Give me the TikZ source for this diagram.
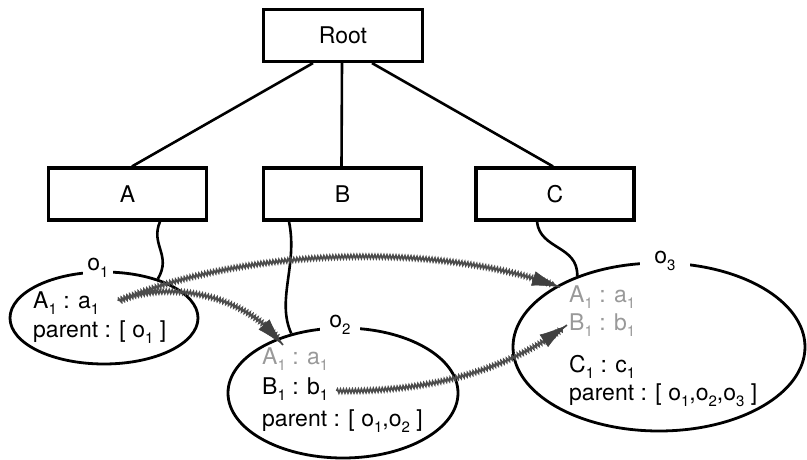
\documentclass[tikz,border=0pt]{standalone}
\usepackage{fontspec}
\setmainfont{TeX Gyre Heros}
\usetikzlibrary{shapes.geometric,arrows.meta,decorations.pathmorphing}
% lowered index digit used in attribute names
\newcommand\sbs[1]{\raisebox{-0.3em}{\fontsize{15}{15}\selectfont #1}}
\begin{document}
\begin{tikzpicture}[x=1pt,y=-1pt,
  lbl/.style={font=\fontsize{23}{27}\selectfont},
  classbox/.style={lbl, draw, line width=3.2pt, minimum width=158pt, minimum height=52pt, inner sep=0pt},
  obj/.style={ellipse, draw, line width=2.8pt, inner sep=0pt},
  olabel/.style={lbl, fill=white, inner ysep=2pt},
  txt/.style={lbl, anchor=base west, inner sep=0pt},
  faint/.style={txt, text=black!40},
  tie/.style={line width=2.6pt},
  wavy/.style={draw=black!70, line width=1.7pt, decorate,
    decoration={snake, amplitude=1.9pt, segment length=3pt, post length=6pt}},
  wavytip/.style={draw=black!75, fill=black!70, line width=0.6pt,
    -{Latex[length=28pt,width=15pt]}, shorten <=-0.5pt}]
\useasboundingbox (0,0) rectangle (807,460);

% class hierarchy
\node[classbox, minimum width=159pt] (root) at (343,35.5) {Root};
\node[classbox] (A) at (127.5,194) {A};
\node[classbox] (B) at (342.5,194) {B};
\node[classbox] (C) at (555,194) {C};

\draw[tie] ([xshift=-30pt]root.south) -- ([xshift=4.5pt]A.north);
\draw[tie] ([xshift=-1pt]root.south) -- ([xshift=-1pt]B.north);
\draw[tie] ([xshift=29pt]root.south) -- ([xshift=-2pt]C.north);

% objects
\node[obj, minimum width=188pt, minimum height=92pt] (o1) at (104,318) {};
\node[obj, minimum width=230pt, minimum height=130pt] (o2) at (343,393) {};
\node[obj, minimum width=292pt, minimum height=168pt] (o3) at (659,347) {};

\node[olabel, inner xsep=4pt] (o1l) at (98,268) {o\sbs{1}};
\node[olabel, inner xsep=9pt] (o2l) at (340,325) {o\sbs{2}};
\node[olabel, inner xsep=14pt] (o3l) at (665,261) {o\sbs{3}};

% instance-of links
\draw[tie] ([xshift=32.5pt]A.south) .. controls (150,245) and (172,255) .. (o1.36);
\draw[tie] ([xshift=-53.5pt]B.south) .. controls (298,265) and (276,300) .. (o2.131);
\draw[tie] ([xshift=-18pt]C.south) .. controls (540,250) and (578,245) .. (o3.139);

% attribute values
\node[txt] (o1a) at (33,308) {A\sbs{1} : a\sbs{1}};
\node[txt] (o1p) at (33,337) {parent : [ o\sbs{1} ]};

\node[faint] (o2a) at (262,364) {A\sbs{1} : a\sbs{1}};
\node[txt] (o2b) at (262,394) {B\sbs{1} : b\sbs{1}};
\node[txt] (o2p) at (262,426) {parent : [ o\sbs{1},o\sbs{2} ]};

\node[faint] (o3a) at (569,302) {A\sbs{1} : a\sbs{1}};
\node[faint] (o3b) at (569,330) {B\sbs{1} : b\sbs{1}};
\node[txt] (o3c) at (569,372) {C\sbs{1} : c\sbs{1}};
\node[txt] (o3p) at (569,400) {parent : [ o\sbs{1},o\sbs{2},o\sbs{3} ]};

% inherited value propagation (shifts are in page directions: +y is up)
\coordinate (src1) at ([xshift=19pt,yshift=7pt]o1a.base east);
\coordinate (src2) at ([xshift=8pt,yshift=3pt]o2b.base east);
\coordinate (dst1) at ([xshift=-9pt,yshift=10pt]o3a.west);
\coordinate (dst2) at ([xshift=21pt,yshift=2pt]o2a.north west);
\coordinate (dst3) at ([xshift=-2pt]o3b.west);

\draw[wavy] (src1) .. controls (240,250) and (430,240) .. (dst1)
  coordinate[pos=0.93] (pre1);
\draw[wavy] (src1) .. controls (170,280) and (245,295) .. (dst2)
  coordinate[pos=0.88] (pre2);
\draw[wavy] (src2) .. controls (420,392) and (500,375) .. (dst3)
  coordinate[pos=0.9] (pre3);

\draw[wavytip] (pre1) -- (dst1);
\draw[wavytip] (pre2) -- (dst2);
\draw[wavytip] (pre3) -- (dst3);
\end{tikzpicture}
\end{document}
